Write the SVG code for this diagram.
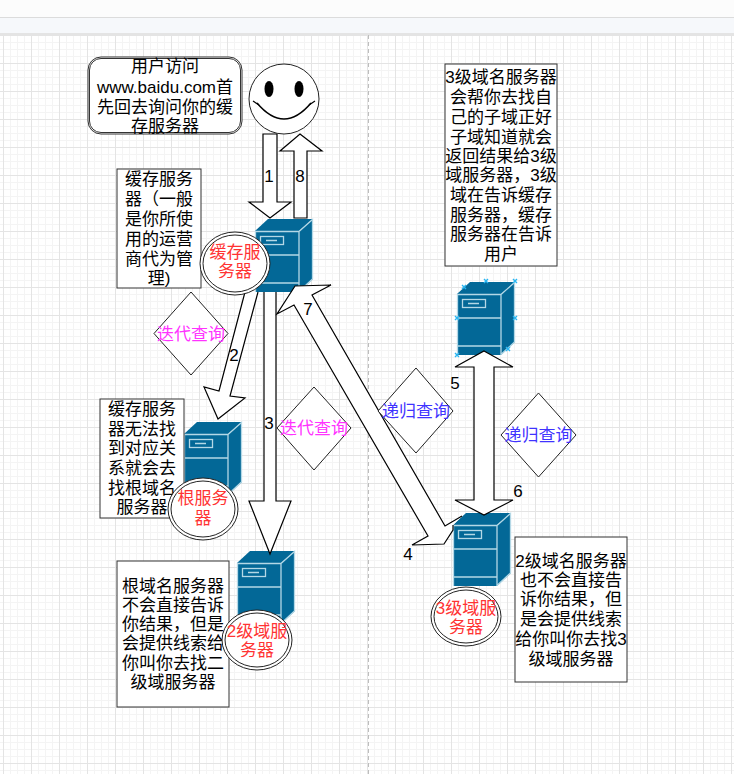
<svg xmlns="http://www.w3.org/2000/svg" width="734" height="774" viewBox="0 0 734 774">
<style>
text{font-family:"Liberation Sans","Noto Sans CJK SC",sans-serif;font-size:17px;text-anchor:middle;fill:#000}
.box{fill:#fff;stroke:#333;stroke-width:1}
.arrow{fill:#fff;stroke:#000;stroke-width:1.2;stroke-linejoin:miter}
.dia{fill:#fff;stroke:#222;stroke-width:1}
.ell{fill:#fff;stroke:#222;stroke-width:1}
.red{fill:#ff3333}
.mag{fill:#ff33ff}
.blu{fill:#3f33ff}
.sel{stroke:#29b6f2;stroke-width:1.4;fill:none}
</style>
<defs>
<pattern id="minor" width="7" height="7" patternUnits="userSpaceOnUse" x="3" y="35"><path d="M0.5 0V7M0 0.5H7" stroke="#f4f4f4" stroke-width="1" fill="none"/></pattern>
<pattern id="major" width="28" height="28" patternUnits="userSpaceOnUse" x="3" y="35"><path d="M0.5 0V28M0 0.5H28" stroke="#e4e4e4" stroke-width="1" fill="none"/></pattern>
<g id="server">
<path d="M0 12L13 0H58L44 12Z" fill="#036897"/>
<path d="M44 12L58 0V60L44 73Z" fill="#036897"/>
<rect x="0" y="12" width="44" height="61" fill="#036897"/>
<path d="M0.5 73V12.5H44V73M44 12.5L57.5 0.5V60L44 72.5M0 36H44M0 64H44" fill="none" stroke="#b4d8e6" stroke-width="1.3"/>
<rect x="5.5" y="17.5" width="23" height="8" fill="none" stroke="#b4d8e6" stroke-width="1.3"/>
<path d="M11 21.5H22" stroke="#b4d8e6" stroke-width="1.5" fill="none"/>
</g>
</defs>

<rect width="734" height="774" fill="#fff"/>
<rect y="35" width="734" height="739" fill="url(#minor)"/>
<rect y="35" width="734" height="739" fill="url(#major)"/>
<rect width="734" height="17" fill="#fcfcfc"/>
<rect y="17" width="734" height="1" fill="#dcdcdc"/>
<rect y="18" width="734" height="15" fill="#f6f8fb"/>
<rect y="33" width="734" height="2" fill="#e4e4e4"/>
<path d="M368.5 35V774" stroke="#bdbdbd" stroke-width="1" stroke-dasharray="4 3" fill="none"/>

<g id="server-cache"><use href="#server" x="255" y="219"/></g>
<g id="server-root"><use href="#server" x="184" y="422"/></g>
<g id="server-level2"><use href="#server" x="237" y="551"/></g>
<g id="server-level3"><use href="#server" x="453" y="513"/></g>
<g id="server-top"><use href="#server" x="457" y="282"/>
<path class="sel" d="M462 285l4 4m0-4l-4 4M484 279l4 4m0-4l-4 4M513 279l4 4m0-4l-4 4M513 316l4 4m0-4l-4 4M506 347l4 4m0-4l-4 4M484 353l4 4m0-4l-4 4M455 353l4 4m0-4l-4 4M455 316l4 4m0-4l-4 4"/>
</g>

<g id="connectors">
<polygon class="arrow" points="263,134 277,134 277,202 291,202 270,218 249,202 263,202"/>
<polygon class="arrow" points="300,134 322,151 307,151 307,218 294,218 294,151 280,151"/>
<path class="arrow" d="M245,292 L219,391 L204,387 L218,419 L245,398 L230,396 L258,292"/>
<path class="arrow" d="M264,292 L264,501 L249,501 L270,554 L291,501 L276,501 L276,292"/>
<path class="arrow" d="M453,525 L453,530 L444,544 L412,545 L428,536 L294,305 L277,314 L295,286 L331,285 L312,295 L445,526 L462,516"/>
<polygon class="arrow" points="484,351 513,367 494,367 494,500 513,500 484,515 455,500 474,500 474,367 455,367"/>
</g>

<g id="label-1"><text x="269" y="182">1</text></g>
<g id="label-8"><text x="300" y="182">8</text></g>
<g id="label-2"><text x="234" y="361">2</text></g>
<g id="label-3"><text x="269" y="429">3</text></g>
<g id="label-7"><text x="308" y="315">7</text></g>
<g id="label-5"><text x="455" y="389">5</text></g>
<g id="label-6"><text x="518" y="497">6</text></g>
<g id="label-4"><text x="408" y="560">4</text></g>

<g id="smiley">
<circle cx="284" cy="99" r="35" fill="#fff" stroke="#222" stroke-width="1"/>
<ellipse cx="269" cy="89" rx="4.5" ry="8" fill="#000"/>
<ellipse cx="299" cy="89" rx="4.5" ry="8" fill="#000"/>
<path d="M257 103Q284 135 311 103" fill="none" stroke="#000" stroke-width="1.5"/>
<path d="M253 101L259 105M315 101L309 105" fill="none" stroke="#000" stroke-width="1.2"/>
</g>

<g id="note-user">
<rect x="88" y="57" width="154" height="77" rx="13" fill="#fff" stroke="#333" stroke-width="1"/>
<rect x="89.5" y="58.5" width="151" height="74" rx="11.5" fill="none" stroke="#333" stroke-width="1"/>
<text><tspan x="165" y="72">用户访问</tspan><tspan x="165" y="93">www.baidu.com首</tspan><tspan x="165" y="113">先回去询问你的缓</tspan><tspan x="165" y="132">存服务器</tspan></text>
</g>

<g id="note-cache">
<rect class="box" x="117" y="169" width="84" height="119"/>
<text><tspan x="159" y="185">缓存服务</tspan><tspan x="159" y="205">器（一般</tspan><tspan x="159" y="225">是你所使</tspan><tspan x="159" y="245">用的运营</tspan><tspan x="159" y="265">商代为管</tspan><tspan x="159" y="284">理)</tspan></text>
</g>

<g id="note-root">
<rect class="box" x="100" y="399" width="84" height="119"/>
<text><tspan x="142" y="415">缓存服务</tspan><tspan x="142" y="435">器无法找</tspan><tspan x="142" y="454">到对应关</tspan><tspan x="142" y="474">系就会去</tspan><tspan x="142" y="494">找根域名</tspan><tspan x="142" y="513">服务器</tspan></text>
</g>

<g id="note-level2">
<rect class="box" x="117" y="561" width="112" height="146"/>
<text><tspan x="173" y="592">根域名服务器</tspan><tspan x="173" y="611">不会直接告诉</tspan><tspan x="173" y="630">你结果，但是</tspan><tspan x="173" y="649">会提供线索给</tspan><tspan x="173" y="669">你叫你去找二</tspan><tspan x="173" y="688">级域服务器</tspan></text>
</g>

<g id="note-level3">
<rect class="box" x="515" y="537" width="112" height="145"/>
<text><tspan x="571" y="567">2级域名服务器</tspan><tspan x="571" y="586">也不会直接告</tspan><tspan x="571" y="605">诉你结果，但</tspan><tspan x="571" y="625">是会提供线索</tspan><tspan x="571" y="645">给你叫你去找3</tspan><tspan x="571" y="665">级域服务器</tspan></text>
</g>

<g id="note-top">
<rect class="box" x="445" y="64" width="112" height="202"/>
<text><tspan x="501" y="83">3级域名服务器</tspan><tspan x="501" y="103">会帮你去找自</tspan><tspan x="501" y="123">己的子域正好</tspan><tspan x="501" y="143">子域知道就会</tspan><tspan x="501" y="162">返回结果给3级</tspan><tspan x="501" y="181">域服务器，3级</tspan><tspan x="501" y="201">域在告诉缓存</tspan><tspan x="501" y="221">服务器，缓存</tspan><tspan x="501" y="240">服务器在告诉</tspan><tspan x="501" y="260">用户</tspan></text>
</g>

<g id="ell-cache">
<ellipse class="ell" cx="235" cy="263.5" rx="35" ry="31.5"/><ellipse class="ell" cx="235" cy="263.5" rx="32" ry="28.5"/>
<text class="red"><tspan x="235" y="258">缓存服</tspan><tspan x="235" y="277">务器</tspan></text>
</g>
<g id="ell-root">
<ellipse class="ell" cx="203" cy="509" rx="35" ry="31"/><ellipse class="ell" cx="203" cy="509" rx="32" ry="28"/>
<text class="red"><tspan x="203" y="504">根服务</tspan><tspan x="203" y="524">器</tspan></text>
</g>
<g id="ell-level2">
<ellipse class="ell" cx="257" cy="640" rx="35" ry="30"/><ellipse class="ell" cx="257" cy="640" rx="32" ry="27"/>
<text class="red"><tspan x="257" y="637">2级域服</tspan><tspan x="257" y="656">务器</tspan></text>
</g>
<g id="ell-level3">
<ellipse class="ell" cx="466" cy="616.5" rx="35" ry="29.5"/><ellipse class="ell" cx="466" cy="616.5" rx="32" ry="26.5"/>
<text class="red"><tspan x="466" y="614">3级域服</tspan><tspan x="466" y="633">务器</tspan></text>
</g>

<g id="dia-iter-1"><polygon class="dia" points="191,292 228,333.5 191,375 154,333.5"/><text class="mag" x="191" y="340">迭代查询</text></g>
<g id="dia-iter-2"><polygon class="dia" points="314,387 351,428 314,470 277,428"/><text class="mag" x="314" y="434">迭代查询</text></g>
<g id="dia-rec-1"><polygon class="dia" points="416,368 453,411 416,453 378,411"/><text class="blu" x="416" y="417">递归查询</text></g>
<g id="dia-rec-2"><polygon class="dia" points="538.5,393 576,435 538.5,477 501,435"/><text class="blu" x="538.5" y="441">递归查询</text></g>
</svg>
